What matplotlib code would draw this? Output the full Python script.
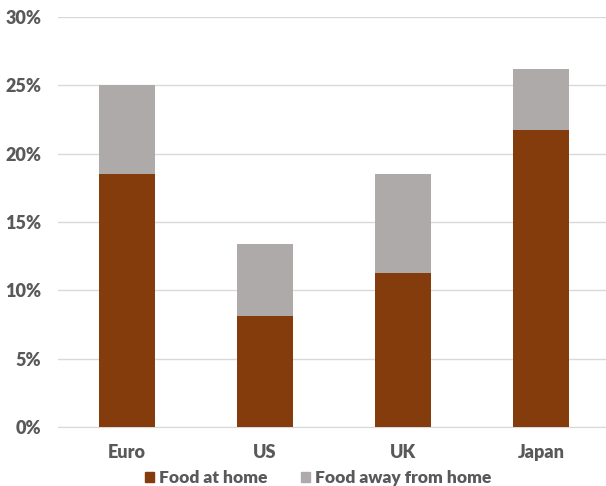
import matplotlib.pyplot as plt
from matplotlib.patches import Patch
from matplotlib.ticker import PercentFormatter

regions = ["Euro", "US", "UK", "Japan"]
food_at_home = [18.5, 8.1, 11.3, 21.7]
food_away = [6.5, 5.3, 7.2, 4.5]

home_color = "#843C0C"
away_color = "#AEAAAA"
text_color = "#595959"

plt.rcParams['font.family'] = ['Lato', 'DejaVu Sans']
plt.rcParams['font.weight'] = 'bold'

fig = plt.figure(figsize=(6.06, 4.86), dpi=100)
ax = fig.add_axes([58 / 606, 59 / 486, 552 / 606, 410 / 486])

x = range(len(regions))
ax.bar(x, food_at_home, width=0.4, color=home_color, zorder=3)
ax.bar(x, food_away, width=0.4, bottom=food_at_home, color=away_color, zorder=3)

ax.set_xlim(-0.5, 3.5)
ax.set_ylim(0, 30)
ax.set_yticks(range(0, 31, 5))
ax.yaxis.set_major_formatter(PercentFormatter(decimals=0))
ax.set_xticks(list(x))
ax.set_xticklabels(regions)
ax.grid(axis='y', color='#D9D9D9', linewidth=1, zorder=0)
for side in ['top', 'right', 'left']:
    ax.spines[side].set_visible(False)
ax.spines['bottom'].set_color('#D9D9D9')
ax.tick_params(length=0, labelsize=13, labelcolor=text_color)
ax.tick_params(axis='x', pad=12)
ax.tick_params(axis='y', pad=12)
for lbl in ax.get_xticklabels() + ax.get_yticklabels():
    lbl.set_fontweight('heavy')

handles = [Patch(color=home_color, label='Food at home'),
           Patch(color=away_color, label='Food away from home')]
fig.legend(handles=handles, loc='lower center', bbox_to_anchor=(0.525, -0.032),
           ncol=2, frameon=False, handlelength=0.55, handleheight=0.55,
           handletextpad=0.3, columnspacing=1.9,
           prop={'size': 12.5, 'weight': 'heavy'}, labelcolor=text_color)

fig.savefig('out.png', dpi=100)
